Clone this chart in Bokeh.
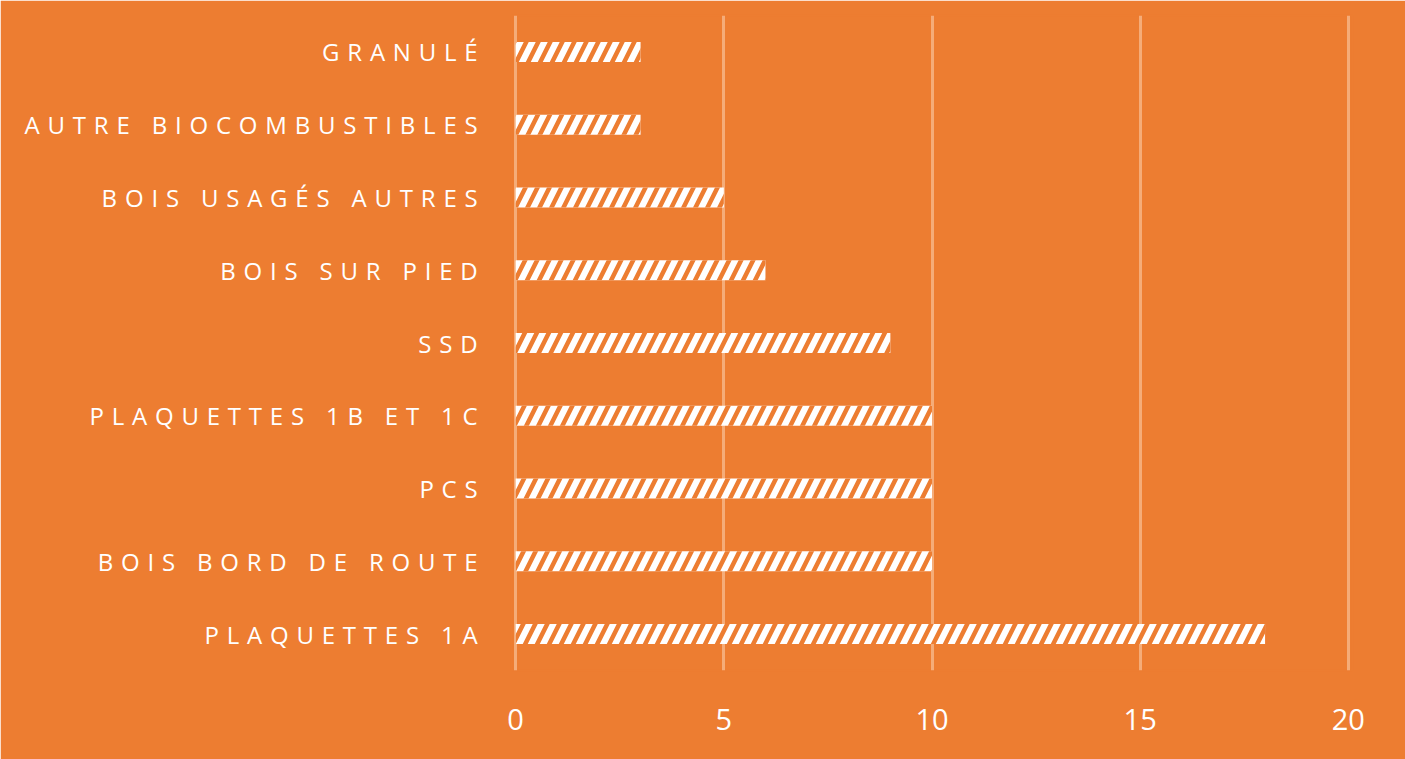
from bokeh.plotting import figure
from bokeh.models import Range1d, FixedTicker
from bokeh.embed import file_html
from bokeh.resources import INLINE

categories = ["PLAQUETTES 1A", "BOIS BORD DE ROUTE", "PCS", "PLAQUETTES 1B ET 1C",
              "SSD", "BOIS SUR PIED", "BOIS USAGÉS AUTRES", "AUTRE BIOCOMBUSTIBLES", "GRANULÉ"]
values = [18, 10, 10, 10, 9, 6, 5, 3, 3]
x_ticks = [0, 5, 10, 15, 20]

BG = "#ED7D31"

p = figure(width=1405, height=759, y_range=categories, x_range=Range1d(-0.1, 20.1),
           output_backend="svg", toolbar_location=None,
           min_border_left=511, min_border_right=53, min_border_top=15, min_border_bottom=89)
p.background_fill_color = BG
p.border_fill_color = BG
p.outline_line_color = BG
p.outline_line_width = 2

p.hbar(y=categories, right=values, left=0, height=0.275,
       fill_color="white", line_color=None,
       hatch_pattern="/", hatch_color=BG, hatch_scale=24, hatch_weight=4.5)

p.xaxis.ticker = FixedTicker(ticks=x_ticks)
p.xaxis.axis_line_color = None
p.xaxis.major_tick_line_color = None
p.xaxis.minor_tick_line_color = None
p.xaxis.major_label_text_color = "white"
p.xaxis.major_label_text_font = "Open Sans"
p.xaxis.major_label_text_font_size = "29px"
p.xaxis.major_label_standoff = 32

p.yaxis.axis_line_color = None
p.yaxis.major_tick_line_color = None
p.yaxis.minor_tick_line_color = None
p.yaxis.major_label_text_color = "white"
p.yaxis.major_label_text_font = "Open Sans"
p.yaxis.major_label_text_font_size = "24px"
p.yaxis.major_label_standoff = 20

p.xgrid.grid_line_color = "#F5AC78"
p.xgrid.grid_line_width = 3
p.ygrid.grid_line_color = None

letter_spacing_js = """
<script>
(function(){
  var SP = 7.8;
  function walk(root){
    root.querySelectorAll('*').forEach(function(el){
      if (el.shadowRoot) walk(el.shadowRoot);
      if (el.tagName && el.tagName.toLowerCase() === 'text' && /[A-Z]/.test(el.textContent || '')
          && !el.hasAttribute('data-ls')) {
        el.setAttribute('data-ls', '1');
        el.style.letterSpacing = SP + 'px';
        var x = parseFloat(el.getAttribute('x') || '0');
        var n = (el.textContent || '').length;
        el.setAttribute('x', String(x - SP * n));
      }
    });
  }
  var n = 0;
  var t = setInterval(function(){ walk(document); if (++n > 200) clearInterval(t); }, 50);
})();
</script>
</body>"""

html = file_html(p, INLINE)
html = html.replace("<body>", '<body style="background-color:#ED7D31;">', 1)
html = html.replace("</body>", letter_spacing_js, 1)
open("out.html", "w").write(html)
